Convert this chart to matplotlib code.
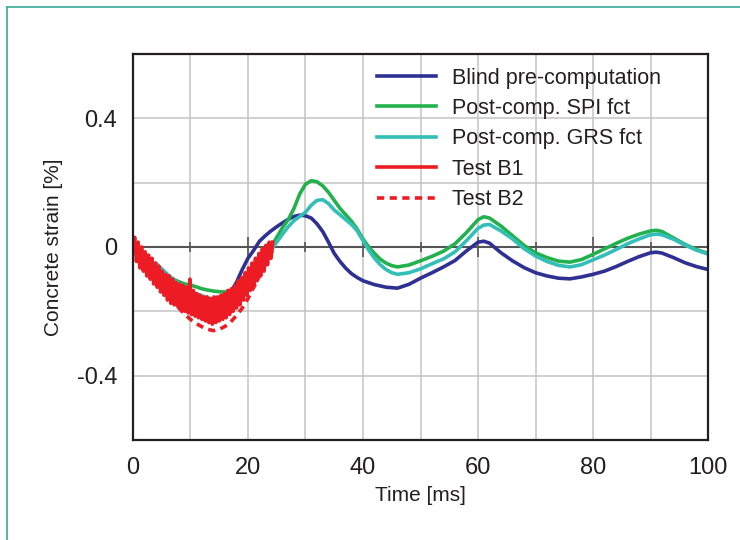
import matplotlib
matplotlib.use("Agg")
import matplotlib.pyplot as plt
from matplotlib.lines import Line2D
import numpy as np

plt.rcParams['font.family'] = ['Liberation Sans', 'DejaVu Sans']

# Blind pre-computation
blind_t = [0, 1, 2, 3, 4, 5, 6, 7, 8, 9, 10, 11, 12, 13, 14, 15, 16, 17, 18, 19,
           20, 21, 22, 23, 24, 25, 26, 27, 28, 29, 30, 31, 32, 33, 34, 35, 36, 37, 38, 39,
           40, 42, 44, 46, 48, 50, 52, 54, 56, 58, 60, 61, 62, 64, 66, 68, 70, 72, 74, 76,
           78, 80, 82, 84, 86, 88, 90, 91, 92, 94, 96, 98, 100]
blind = [0.0, -0.02, -0.04, -0.06, -0.08, -0.095, -0.11, -0.125, -0.14, -0.15,
         -0.155, -0.16, -0.165, -0.168, -0.17, -0.168, -0.16, -0.14, -0.11, -0.07,
         -0.035, -0.01, 0.018, 0.035, 0.05, 0.063, 0.075, 0.086, 0.095, 0.099,
         0.097, 0.09, 0.072, 0.048, 0.015, -0.02, -0.045, -0.066, -0.083, -0.095,
         -0.105, -0.117, -0.125, -0.128, -0.116, -0.097, -0.08, -0.062, -0.042, -0.012,
         0.015, 0.018, 0.012, -0.018, -0.043, -0.064, -0.08, -0.09, -0.097, -0.099,
         -0.093, -0.085, -0.075, -0.061, -0.045, -0.03, -0.018, -0.016, -0.019, -0.033,
         -0.049, -0.061, -0.07]

# Post-computation, SPI and GRS functions
post_t = [0, 1, 2, 3, 4, 5, 6, 7, 8, 9, 10, 11, 12, 13, 14, 15, 16, 17, 18, 19,
          20, 21, 22, 23, 24, 25, 26, 27, 28, 29, 30, 31, 32, 33, 34, 35, 36, 37, 38, 39,
          40, 41, 42, 43, 44, 45, 46, 48, 50, 52, 54, 56, 58, 60, 61, 62, 64, 66, 68, 70,
          72, 74, 76, 78, 80, 82, 84, 86, 88, 90, 91, 92, 94, 96, 98, 100]
spi = [0.0, -0.02, -0.04, -0.055, -0.068, -0.08, -0.09, -0.1, -0.108, -0.115,
       -0.118, -0.124, -0.13, -0.134, -0.137, -0.139, -0.14, -0.138, -0.13, -0.115,
       -0.095, -0.075, -0.055, -0.03, 0.0, 0.03, 0.06, 0.085, 0.12, 0.165,
       0.195, 0.206, 0.203, 0.19, 0.17, 0.145, 0.12, 0.1, 0.08, 0.055,
       0.025, 0.0, -0.02, -0.038, -0.05, -0.058, -0.062, -0.056, -0.043, -0.029,
       -0.013, 0.01, 0.045, 0.085, 0.094, 0.09, 0.065, 0.035, 0.005, -0.018,
       -0.033, -0.044, -0.047, -0.039, -0.023, -0.006, 0.011, 0.027, 0.04, 0.05,
       0.052, 0.048, 0.028, 0.008, -0.008, -0.02]
grs = [0.0, -0.02, -0.035, -0.055, -0.05, -0.068, -0.085, -0.1, -0.115, -0.128,
       -0.137, -0.145, -0.152, -0.158, -0.163, -0.166, -0.165, -0.158, -0.145, -0.125,
       -0.105, -0.08, -0.06, -0.035, -0.01, 0.015, 0.04, 0.063, 0.082, 0.095,
       0.108, 0.13, 0.145, 0.147, 0.135, 0.115, 0.1, 0.085, 0.07, 0.05,
       0.02, -0.01, -0.035, -0.055, -0.07, -0.08, -0.085, -0.08, -0.068, -0.052,
       -0.037, -0.015, 0.02, 0.058, 0.068, 0.07, 0.05, 0.025, -0.005, -0.028,
       -0.045, -0.057, -0.062, -0.055, -0.04, -0.025, -0.008, 0.01, 0.025, 0.038,
       0.04, 0.038, 0.024, 0.006, -0.01, -0.022]

# Test B1 (measured, noisy), sampled every 0.3 ms
b1_t = np.arange(82) * 0.3
b1 = [0.005, 0.03, -0.045, 0.015, -0.065, 0.0, -0.075, -0.015, -0.09, -0.025,
      -0.1, -0.035, -0.115, -0.05, -0.125, -0.06, -0.14, -0.075, -0.15, -0.085,
      -0.165, -0.09, -0.175, -0.1, -0.18, -0.11, -0.185, -0.115, -0.195, -0.12,
      -0.2, -0.125, -0.205, -0.1, -0.21, -0.135, -0.215, -0.145, -0.22, -0.15,
      -0.225, -0.155, -0.23, -0.155, -0.235, -0.16, -0.24, -0.155, -0.235, -0.155,
      -0.23, -0.15, -0.225, -0.145, -0.22, -0.135, -0.21, -0.13, -0.2, -0.12,
      -0.19, -0.105, -0.18, -0.095, -0.165, -0.08, -0.15, -0.065, -0.135, -0.05,
      -0.12, -0.035, -0.105, -0.02, -0.09, -0.005, -0.075, 0.005, -0.055, 0.015,
      -0.035, 0.015]

# Test B2
b2_t = [0, 1, 2, 3, 4, 5, 6, 7, 8, 9, 10, 11, 12, 13, 14, 15, 16, 17, 18, 19,
        20, 21, 22, 23, 24, 24.5]
b2 = [0.0, -0.04, -0.07, -0.09, -0.11, -0.13, -0.148, -0.17, -0.19, -0.21,
      -0.225, -0.238, -0.248, -0.256, -0.26, -0.256, -0.247, -0.233, -0.213, -0.19,
      -0.16, -0.125, -0.09, -0.055, -0.02, 0.0]

x_ticks = [0, 20, 40, 60, 80, 100]
y_ticks = [-0.4, 0, 0.4]
y_tick_labels = ['-0.4', '0', '0.4']

c_blue = '#2E3192'
c_green = '#22B14C'
c_teal = '#33BEB8'
c_red = '#ED1C24'

fig = plt.figure(figsize=(7.4, 5.4), dpi=100)
ax = fig.add_axes([0.1797, 0.1852, 0.7771, 0.7148])

# frame line of the figure box
fig.add_artist(Line2D([0.0095, 0.0095], [0, 0.987], color='#3AAA9A', lw=1.2))
fig.add_artist(Line2D([0.0095, 1], [0.987, 0.987], color='#3AAA9A', lw=1.2))

ax.set_xlim(0, 100)
ax.set_ylim(-0.6, 0.6)
ax.set_xticks(np.arange(0, 101, 10), minor=True)
ax.set_yticks(np.arange(-0.6, 0.61, 0.2), minor=True)
ax.grid(True, which='both', color='#C4C4C4', lw=1.1)
ax.set_axisbelow(True)

ax.axhline(0, color='#555555', lw=1.5, zorder=1.5)
ax.vlines(np.arange(10, 100, 20), -0.016, 0.016, color='#555555', lw=1.2, zorder=1.5)
ax.vlines(np.arange(20, 100, 20), -0.032, 0.032, color='#555555', lw=1.2, zorder=1.5)

lw = 2.6
ax.plot(blind_t, blind, color=c_blue, lw=lw, label='Blind pre-computation')
ax.plot(post_t, spi, color=c_green, lw=lw, label='Post-comp. SPI fct')
ax.plot(post_t, grs, color=c_teal, lw=lw, label='Post-comp. GRS fct')
ax.plot(b1_t, b1, color=c_red, lw=lw, label='Test B1')
ax.plot(b2_t, b2, color=c_red, lw=lw, ls=(0, (2.0, 1.5)), label='Test B2')

ax.set_xticks(x_ticks)
ax.set_yticks(y_ticks)
ax.set_yticklabels(y_tick_labels)
ax.tick_params(which='both', length=0, labelsize=17, colors='#231F20')
ax.tick_params(axis='x', pad=12)
ax.tick_params(axis='y', pad=11.5)

for s in ax.spines.values():
    s.set_color('#231F20')
    s.set_linewidth(1.6)

ax.set_xlabel('Time [ms]', fontsize=15, color='#231F20', labelpad=5)
ax.set_ylabel('Concrete strain [%]', fontsize=15, color='#231F20', labelpad=10)

leg = ax.legend(loc='upper left', bbox_to_anchor=(0.424, 0.965), frameon=False,
                fontsize=15.5, handlelength=2.75, handletextpad=0.73,
                labelspacing=0.44, borderpad=0, borderaxespad=0)
for t in leg.get_texts():
    t.set_color('#231F20')

fig.savefig('out.png', dpi=100)
